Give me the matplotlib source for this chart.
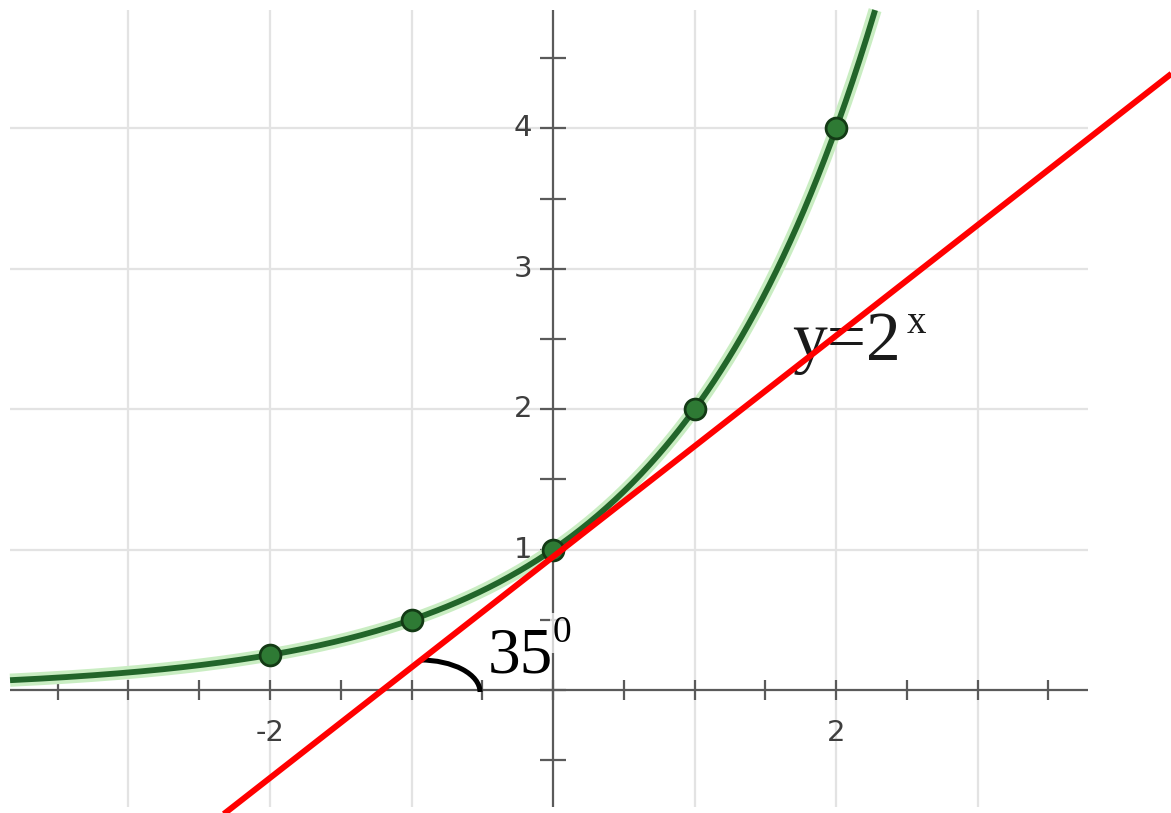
import numpy as np
import matplotlib
matplotlib.use('Agg')
import matplotlib.pyplot as plt
from matplotlib.patches import Arc

# ---- data ----
point_x = [-2, -1, 0, 1, 2]
point_y = [0.25, 0.5, 1, 2, 4]
tangent_x = [-2.33, 4.37]
tangent_y = [-0.886, 4.39]
x_label_pos = [-2, 2]
x_label_txt = ['-2', '2']
y_label_pos = [1, 2, 3, 4]
y_label_txt = ['1', '2', '3', '4']
grid_x = [-3, -2, -1, 1, 2, 3]
grid_y = [1, 2, 3, 4]
curve_label = 'y=2'
curve_sup = 'x'
angle_label = '35'
angle_sup = '0'

fig = plt.figure(figsize=(11.71, 8.13), dpi=100)
ax = fig.add_axes([0, 0, 1, 1])
ax.set_xlim(-3.908, 4.367)
ax.set_ylim(-0.876, 4.915)
ax.axis('off')

# graph window extents
X0, X1 = -3.837, 3.781
Y0, Y1 = -0.833, 4.843

# grid
ax.vlines(grid_x, Y0, Y1, color='#e3e3e3', lw=1.6, zorder=1)
ax.hlines(grid_y, X0, X1, color='#e3e3e3', lw=1.6, zorder=1)

# axes
axis_col = '#5a5a5a'
ax.hlines(0, X0, X1, color=axis_col, lw=1.6, zorder=2)
ax.vlines(0, Y0, Y1, color=axis_col, lw=1.6, zorder=2)
xt = np.arange(-3.5, 3.6, 0.5)
yt = np.arange(-0.5, 4.6, 0.5)
ax.plot(xt, np.zeros_like(xt), ls='none', marker='|', ms=15, mew=1.6, color=axis_col, zorder=2)
ax.plot(np.zeros_like(yt), yt, ls='none', marker='_', ms=19, mew=1.6, color=axis_col, zorder=2)

# tick labels
for x, t in zip(x_label_pos, x_label_txt):
    ax.annotate(t, (x, 0), xytext=(0, -31), textcoords='offset points',
                ha='center', va='center', fontsize=21, color='#3e3e3e', zorder=3)
for y, t in zip(y_label_pos, y_label_txt):
    ax.annotate(t, (0, y), xytext=(-15, 0), textcoords='offset points',
                ha='right', va='center', fontsize=21, color='#3e3e3e', zorder=3)

# curve y = 2^x
xs = np.linspace(X0, np.log2(Y1), 500)
ys = np.exp2(xs)
ax.plot(xs, ys, color='#c9edc2', lw=9.5, solid_capstyle='butt', zorder=3)
ax.plot(xs, ys, color='#22652a', lw=4.2, solid_capstyle='butt', zorder=3.5)
ax.plot(point_x, point_y, ls='none', marker='o', ms=15, mfc='#2e7a34',
        mec='#133a15', mew=2, zorder=5)

# texts
serif = 'Liberation Serif'
ax.text(1.689, 2.350, curve_label, fontsize=50, family=serif,
        ha='left', va='baseline', color='#1a1a1a', zorder=4)
ax.text(2.502, 2.543, curve_sup, fontsize=28, family=serif,
        ha='left', va='baseline', color='#1a1a1a', zorder=4)

ax.text(-0.459, 0.128, angle_label, fontsize=47, family=serif,
        ha='left', va='baseline', color='#000000', zorder=4)
ax.text(0.0, 0.342, angle_sup, fontsize=27, family=serif,
        ha='left', va='baseline', color='#000000', zorder=4,
        bbox=dict(facecolor='white', edgecolor='none', alpha=0.75, pad=2))

# angle arc
ax.add_patch(Arc((-0.94, -0.014), 0.848, 0.456, theta1=0, theta2=90,
                 color='black', lw=3.6, zorder=4))

# tangent line
ax.plot(tangent_x, tangent_y, color='#ff0000', lw=4.3, solid_capstyle='butt', zorder=6)

fig.savefig('out.png', dpi=100, facecolor='white')
